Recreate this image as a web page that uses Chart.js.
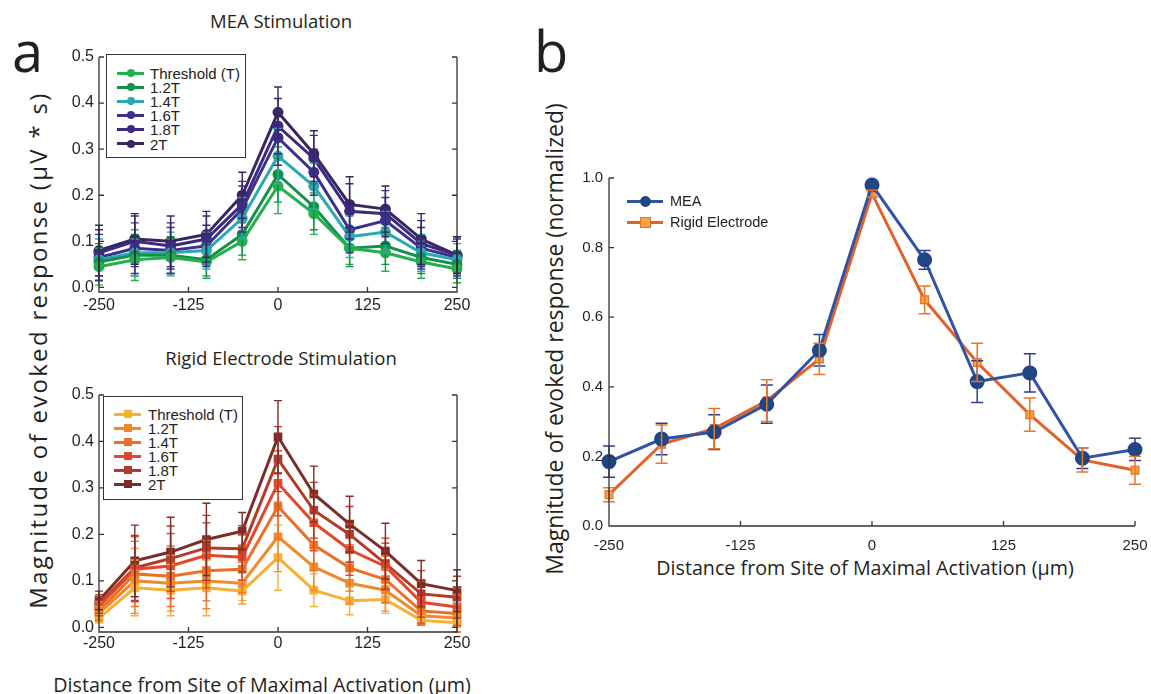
<!DOCTYPE html>
<html>
<head>
<meta charset="utf-8">
<script src="https://cdn.jsdelivr.net/npm/chart.js@4"></script>
<style>
  body { margin: 0; background: #fff; width: 1151px; height: 694px; position: relative; overflow: hidden; color: #231f20; }
  canvas { position: absolute; }
  .txt { position: absolute; white-space: nowrap; font-family: "Open Sans", sans-serif; }
  .panel { font-size: 56px; line-height: 56px; }
  .ttl { font-size: 18.5px; transform: translateX(-50%); }
  .axt { font-size: 19.7px; transform: translate(-50%, -50%); }
  .yt { transform: translate(-50%, -50%) rotate(-90deg); }
  .legend { position: absolute; font-family: "Liberation Sans", Arial, sans-serif; }
  .legend.box { border: 1.5px solid #333; background: #fff; box-sizing: border-box; }
  .row { position: absolute; left: 0; height: 14px; }
  .row .ln { position: absolute; height: 3px; top: -1.5px; }
  .row .mk { position: absolute; top: 50%; }
  .row .lb { position: absolute; top: 0; transform: translateY(-50%); white-space: nowrap; color: #222; }
</style>
</head>
<body>
<div class="txt panel" style="left:12px;top:22px;">a</div>
<div class="txt panel" style="left:534px;top:22px;">b</div>
<div class="txt ttl" style="left:281px;top:8px;">MEA Stimulation</div>
<div class="txt ttl" style="left:281px;top:345px;">Rigid Electrode Stimulation</div>
<div class="txt yt" style="left:37px;top:350px;font-size:24px;letter-spacing:2.3px;">Magnitude of evoked response (μV * s)</div>
<div class="txt axt" style="left:262px;top:684px;">Distance from Site of Maximal Activation (μm)</div>
<div class="txt yt" style="left:554px;top:339px;font-size:23px;">Magnitude of evoked response (normalized)</div>
<div class="txt axt" style="left:865px;top:567px;">Distance from Site of Maximal Activation (μm)</div>

<canvas id="meaChart" style="left:59px;top:40px;" width="414" height="280"></canvas>
<canvas id="rigidChart" style="left:59px;top:378px;" width="414" height="282"></canvas>
<canvas id="normChart" style="left:569px;top:160px;" width="582" height="396"></canvas>

<div id="meaLegend" class="legend box" style="left:106px;top:54px;width:140px;height:104px;"></div>
<div id="rigidLegend" class="legend box" style="left:103px;top:396px;width:140px;height:104px;"></div>
<div id="normLegend" class="legend" style="left:627px;top:190px;width:200px;height:44px;"></div>

<script>
const distances = [-250, -200, -150, -100, -50, 0, 50, 100, 150, 200, 250];
const xTicks = [-250, -125, 0, 125, 250];
const yTicksA = [0, 0.1, 0.2, 0.3, 0.4, 0.5];
const yTicksB = [0, 0.2, 0.4, 0.6, 0.8, 1.0];
const levels = ['Threshold (T)', '1.2T', '1.4T', '1.6T', '1.8T', '2T'];

// panel a, MEA stimulation (uV*s)
const meaT    = [0.045, 0.06, 0.065, 0.055, 0.10, 0.22, 0.16, 0.085, 0.075, 0.055, 0.04];
const mea12   = [0.055, 0.07, 0.07, 0.06, 0.115, 0.245, 0.175, 0.085, 0.09, 0.065, 0.05];
const mea14   = [0.06, 0.075, 0.075, 0.08, 0.15, 0.285, 0.22, 0.11, 0.12, 0.075, 0.06];
const mea16   = [0.065, 0.085, 0.08, 0.09, 0.17, 0.325, 0.25, 0.125, 0.145, 0.085, 0.065];
const mea18   = [0.075, 0.10, 0.09, 0.105, 0.18, 0.35, 0.28, 0.165, 0.16, 0.095, 0.07];
const mea2    = [0.08, 0.105, 0.10, 0.115, 0.20, 0.38, 0.29, 0.18, 0.17, 0.105, 0.07];
const meaTErr  = [0.04, 0.045, 0.04, 0.035, 0.04, 0.06, 0.045, 0.035, 0.04, 0.035, 0.03];
const mea12Err = [0.04, 0.045, 0.04, 0.035, 0.045, 0.06, 0.05, 0.04, 0.04, 0.035, 0.03];
const mea14Err = [0.045, 0.05, 0.045, 0.04, 0.045, 0.06, 0.05, 0.045, 0.045, 0.04, 0.035];
const mea16Err = [0.05, 0.055, 0.05, 0.045, 0.05, 0.06, 0.05, 0.05, 0.05, 0.045, 0.04];
const mea18Err = [0.05, 0.055, 0.05, 0.05, 0.05, 0.06, 0.05, 0.06, 0.05, 0.05, 0.04];
const mea2Err  = [0.055, 0.055, 0.055, 0.05, 0.05, 0.055, 0.05, 0.06, 0.05, 0.055, 0.04];
const meaColors = ['#22b04b', '#14904a', '#2aa9b0', '#3b2f8f', '#3c2a80', '#3a2561'];

// panel a, rigid electrode stimulation (uV*s)
const rigT    = [0.02, 0.085, 0.08, 0.085, 0.078, 0.15, 0.08, 0.057, 0.06, 0.015, 0.01];
const rig12   = [0.03, 0.10, 0.095, 0.10, 0.095, 0.195, 0.13, 0.095, 0.08, 0.025, 0.02];
const rig14   = [0.035, 0.115, 0.11, 0.122, 0.125, 0.26, 0.177, 0.128, 0.103, 0.035, 0.03];
const rig16   = [0.045, 0.125, 0.132, 0.155, 0.151, 0.31, 0.225, 0.167, 0.131, 0.054, 0.044];
const rig18   = [0.05, 0.128, 0.148, 0.171, 0.169, 0.362, 0.252, 0.20, 0.137, 0.072, 0.065];
const rig2    = [0.058, 0.143, 0.162, 0.189, 0.207, 0.41, 0.287, 0.222, 0.164, 0.094, 0.079];
const rigTErr  = [0.01, 0.06, 0.055, 0.06, 0.02, 0.07, 0.035, 0.03, 0.03, 0.01, 0.01];
const rig12Err = [0.015, 0.07, 0.06, 0.06, 0.045, 0.075, 0.05, 0.045, 0.045, 0.02, 0.03];
const rig14Err = [0.02, 0.07, 0.065, 0.065, 0.05, 0.07, 0.055, 0.05, 0.05, 0.03, 0.04];
const rig16Err = [0.02, 0.07, 0.07, 0.07, 0.05, 0.07, 0.06, 0.055, 0.05, 0.045, 0.04];
const rig18Err = [0.02, 0.07, 0.07, 0.07, 0.05, 0.07, 0.06, 0.06, 0.055, 0.05, 0.045];
const rig2Err  = [0.02, 0.077, 0.075, 0.078, 0.04, 0.078, 0.06, 0.06, 0.06, 0.05, 0.045];
const rigColors = ['#f6b035', '#f08a2c', '#ec6f27', '#e2472a', '#b23b29', '#7a2e27'];

// panel b, normalized
const normMea      = [0.185, 0.25, 0.27, 0.35, 0.505, 0.98, 0.765, 0.415, 0.44, 0.195, 0.22];
const normMeaErr   = [0.045, 0.045, 0.05, 0.055, 0.045, 0.01, 0.027, 0.06, 0.055, 0.03, 0.032];
const normRigid    = [0.09, 0.235, 0.28, 0.36, 0.48, 0.955, 0.65, 0.47, 0.32, 0.19, 0.16];
const normRigidErr = [0.02, 0.055, 0.058, 0.06, 0.045, 0.01, 0.04, 0.055, 0.048, 0.035, 0.04];

const pts = vals => vals.map((v, i) => ({ x: distances[i], y: v }));

const errorBars = {
  id: 'errorBars',
  afterDatasetsDraw(chart, args, opts) {
    const { ctx, scales: { x, y } } = chart;
    chart.data.datasets.forEach(ds => {
      if (!ds.errors) return;
      ctx.save();
      ctx.strokeStyle = ds.errColor || ds.borderColor;
      ctx.lineWidth = opts.width;
      ds.data.forEach((p, j) => {
        const e = ds.errors[j];
        const px = x.getPixelForValue(p.x);
        const top = y.getPixelForValue(p.y + e);
        const bot = y.getPixelForValue(p.y - e);
        const c = opts.cap;
        ctx.beginPath();
        ctx.moveTo(px, top); ctx.lineTo(px, bot);
        ctx.moveTo(px - c, top); ctx.lineTo(px + c, top);
        ctx.moveTo(px - c, bot); ctx.lineTo(px + c, bot);
        ctx.stroke();
      });
      ctx.restore();
    });
  }
};

const frame = {
  id: 'frame',
  afterDraw(chart, args, opts) {
    const { ctx, chartArea: a, scales: { x, y } } = chart;
    ctx.save();
    ctx.strokeStyle = '#333';
    ctx.lineWidth = 1.3;
    ctx.beginPath();
    ctx.moveTo(a.left, a.top);
    ctx.lineTo(a.left, a.bottom);
    ctx.lineTo(a.right, a.bottom);
    if (opts.right) ctx.lineTo(a.right, a.top);
    const L = opts.tick;
    x.ticks.forEach(t => {
      const px = x.getPixelForValue(t.value);
      ctx.moveTo(px, a.bottom); ctx.lineTo(px, a.bottom - L);
    });
    y.ticks.forEach(t => {
      const py = y.getPixelForValue(t.value);
      ctx.moveTo(a.left, py); ctx.lineTo(a.left + L, py);
      if (opts.right) { ctx.moveTo(a.right, py); ctx.lineTo(a.right - L, py); }
    });
    ctx.stroke();
    ctx.restore();
  }
};

function makeChart(id, datasets, yTicks, yMin, yMax, o) {
  return new Chart(document.getElementById(id), {
    type: 'line',
    data: { datasets },
    plugins: [errorBars, frame],
    options: {
      responsive: false,
      animation: false,
      layout: { padding: { top: o.padTop, right: 16, left: 0, bottom: 0 } },
      plugins: {
        legend: { display: false },
        tooltip: { enabled: false },
        errorBars: { width: o.errWidth, cap: o.cap },
        frame: { right: o.rightSpine, tick: 5 }
      },
      scales: {
        x: {
          type: 'linear', min: -250, max: 250,
          grid: { display: false, drawTicks: false },
          border: { display: false },
          afterBuildTicks: s => { s.ticks = xTicks.map(v => ({ value: v })); },
          afterFit: s => { s.height = o.xHeight; s.paddingLeft = 0; s.paddingRight = 0; },
          ticks: { color: '#231f20', padding: o.xPad, font: o.font, maxRotation: 0, callback: v => String(v) }
        },
        y: {
          min: yMin, max: yMax,
          grid: { display: false, drawTicks: false },
          border: { display: false },
          afterBuildTicks: s => { s.ticks = yTicks.map(v => ({ value: v })); },
          afterFit: s => { s.width = 40; s.paddingTop = 0; s.paddingBottom = 0; },
          ticks: { color: '#231f20', padding: o.yPad, font: o.font, callback: v => v.toFixed(1) }
        }
      }
    }
  });
}

function seriesSet(valsList, errList, colors, style) {
  return valsList.map((vals, i) => ({
    label: levels[i],
    data: pts(vals),
    errors: errList[i],
    borderColor: colors[i],
    backgroundColor: colors[i],
    pointBackgroundColor: colors[i],
    pointBorderColor: colors[i],
    pointStyle: style,
    pointRadius: 4,
    borderWidth: 3,
    tension: 0,
    clip: false
  }));
}

const fontA = { family: '"Liberation Sans", Arial, sans-serif', size: 16 };
makeChart('meaChart',
  seriesSet([meaT, mea12, mea14, mea16, mea18, mea2],
            [meaTErr, mea12Err, mea14Err, mea16Err, mea18Err, mea2Err], meaColors, 'circle'),
  yTicksA, -0.01, 0.5,
  { padTop: 17, xHeight: 28, xPad: 4, yPad: 5, font: fontA, errWidth: 1.4, cap: 4, rightSpine: true });

makeChart('rigidChart',
  seriesSet([rigT, rig12, rig14, rig16, rig18, rig2],
            [rigTErr, rig12Err, rig14Err, rig16Err, rig18Err, rig2Err], rigColors, 'rect'),
  yTicksA, -0.01, 0.5,
  { padTop: 17, xHeight: 28, xPad: 2, yPad: 5, font: fontA, errWidth: 1.4, cap: 4, rightSpine: true });

const fontB = { family: '"Liberation Sans", Arial, sans-serif', size: 15 };
makeChart('normChart', [
  { label: 'MEA', data: pts(normMea), errors: normMeaErr, errColor: '#2b3f8f',
    borderColor: '#3452a4', pointBackgroundColor: '#1c4c7c', pointBorderColor: '#23428a',
    pointStyle: 'circle', pointRadius: 6, borderWidth: 3, tension: 0, clip: false },
  { label: 'Rigid Electrode', data: pts(normRigid), errors: normRigidErr, errColor: '#e8762e',
    borderColor: '#e2622a', pointBackgroundColor: '#f7a53c', pointBorderColor: '#e8702b',
    pointStyle: 'rect', pointRadius: 5.5, pointBorderWidth: 1.2, borderWidth: 3, tension: 0, clip: false }
], yTicksB, 0, 1.0,
  { padTop: 18, xHeight: 30, xPad: 11, yPad: 6, font: fontB, errWidth: 1.5, cap: 6, rightSpine: false });

// HTML legends
function buildLegend(id, names, colors, shape, o) {
  const el = document.getElementById(id);
  names.forEach((name, i) => {
    const row = document.createElement('div');
    row.className = 'row';
    row.style.top = (o.first + i * o.step) + 'px';
    const ln = document.createElement('span');
    ln.className = 'ln';
    ln.style.left = o.lineX + 'px';
    ln.style.width = o.lineW + 'px';
    ln.style.background = (o.lineColors || colors)[i];
    const mk = document.createElement('span');
    mk.className = 'mk';
    const s = o.mark;
    mk.style.width = s + 'px';
    mk.style.height = s + 'px';
    mk.style.left = (o.lineX + o.lineW / 2 - s / 2) + 'px';
    mk.style.top = (-s / 2) + 'px';
    mk.style.background = colors[i];
    mk.style.boxSizing = 'border-box';
    if (o.markBorder) mk.style.border = '1.2px solid ' + o.markBorder[i];
    if (shape[i] === 'circle') mk.style.borderRadius = '50%';
    const lb = document.createElement('span');
    lb.className = 'lb';
    lb.style.left = o.textX + 'px';
    lb.style.fontSize = o.size + 'px';
    lb.textContent = name;
    row.append(ln, mk, lb);
    el.appendChild(row);
  });
}
buildLegend('meaLegend', levels, meaColors, levels.map(() => 'circle'),
  { first: 18, step: 14.1, lineX: 10, lineW: 27, textX: 43, size: 15, mark: 8 });
buildLegend('rigidLegend', levels, rigColors, levels.map(() => 'rect'),
  { first: 17, step: 14, lineX: 10, lineW: 27, textX: 44, size: 15, mark: 8 });
buildLegend('normLegend', ['MEA', 'Rigid Electrode'], ['#1c4c7c', '#f7a53c'], ['circle', 'rect'],
  { first: 11, step: 21, lineX: 0, lineW: 36, textX: 43, size: 14.5, mark: 11,
    lineColors: ['#3452a4', '#e2622a'], markBorder: ['#23428a', '#e8702b'] });
</script>
</body>
</html>
